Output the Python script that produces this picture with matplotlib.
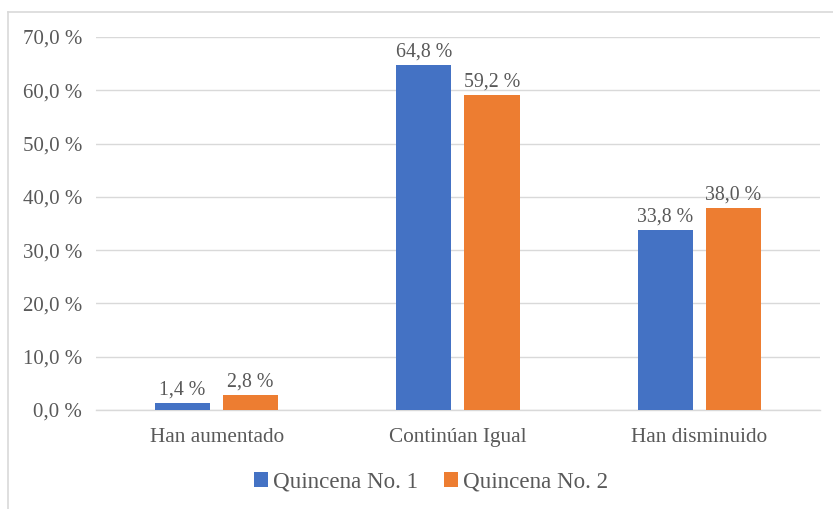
import numpy as np
import matplotlib
matplotlib.use('Agg')
import matplotlib.pyplot as plt
from matplotlib.lines import Line2D

categorias = ['Han aumentado', 'Continúan Igual', 'Han disminuido']
quincena1 = [1.4, 64.8, 33.8]
quincena2 = [2.8, 59.2, 38.0]
series = ['Quincena No. 1', 'Quincena No. 2']
yticks = [0, 10, 20, 30, 40, 50, 60, 70]

azul = '#4472C4'
naranja = '#ED7D31'
gris = '#595959'

plt.rcParams['font.family'] = ['Liberation Serif', 'DejaVu Serif']

fig = plt.figure(figsize=(8.33, 5.09), dpi=100)
ax = fig.add_axes([0.1152, 0.1945, 0.8692, 0.7328])

x = np.arange(len(categorias))
w = 0.228
ax.bar(x - 0.141, quincena1, w, color=azul, label=series[0], zorder=3)
ax.bar(x + 0.141, quincena2, w, color=naranja, label=series[1], zorder=3)

def fmt(v):
    return ('%.1f' % v).replace('.', ',') + ' %'

for xi, v in zip(x - 0.141, quincena1):
    ax.text(xi, v + 0.6, fmt(v), ha='center', va='bottom', fontsize=14.3, color=gris)
for xi, v in zip(x + 0.141, quincena2):
    ax.text(xi, v + 0.6, fmt(v), ha='center', va='bottom', fontsize=14.3, color=gris)

ax.set_xlim(-0.5, 2.5)
ax.set_ylim(0, 70)
ax.set_yticks(yticks)
ax.set_yticklabels([fmt(t) for t in yticks], fontsize=15, color=gris)
ax.set_xticks(x)
ax.set_xticklabels(categorias, fontsize=15.3, color=gris)
ax.tick_params(axis='y', length=0, pad=10)
ax.tick_params(axis='x', length=0, pad=13)
ax.grid(axis='y', color='#d9d9d9', linewidth=1, zorder=0)
for s in ['top', 'right', 'left']:
    ax.spines[s].set_visible(False)
ax.spines['bottom'].set_color('#d9d9d9')
ax.spines['bottom'].set_linewidth(1)

leg = ax.legend(loc='upper center', bbox_to_anchor=(0.463, -0.11), ncol=2,
                frameon=False, fontsize=16.6, handlelength=0.6, handleheight=0.6,
                handletextpad=0.25, columnspacing=1.1, labelcolor=gris)

# marco del gráfico
fig.add_artist(Line2D([8 / 833, 8 / 833], [0, 1 - 12 / 509], color='#d9d9d9', lw=1.2))
fig.add_artist(Line2D([8 / 833, 1], [1 - 12 / 509, 1 - 12 / 509], color='#d9d9d9', lw=1.2))

fig.savefig('out.png', dpi=100)
